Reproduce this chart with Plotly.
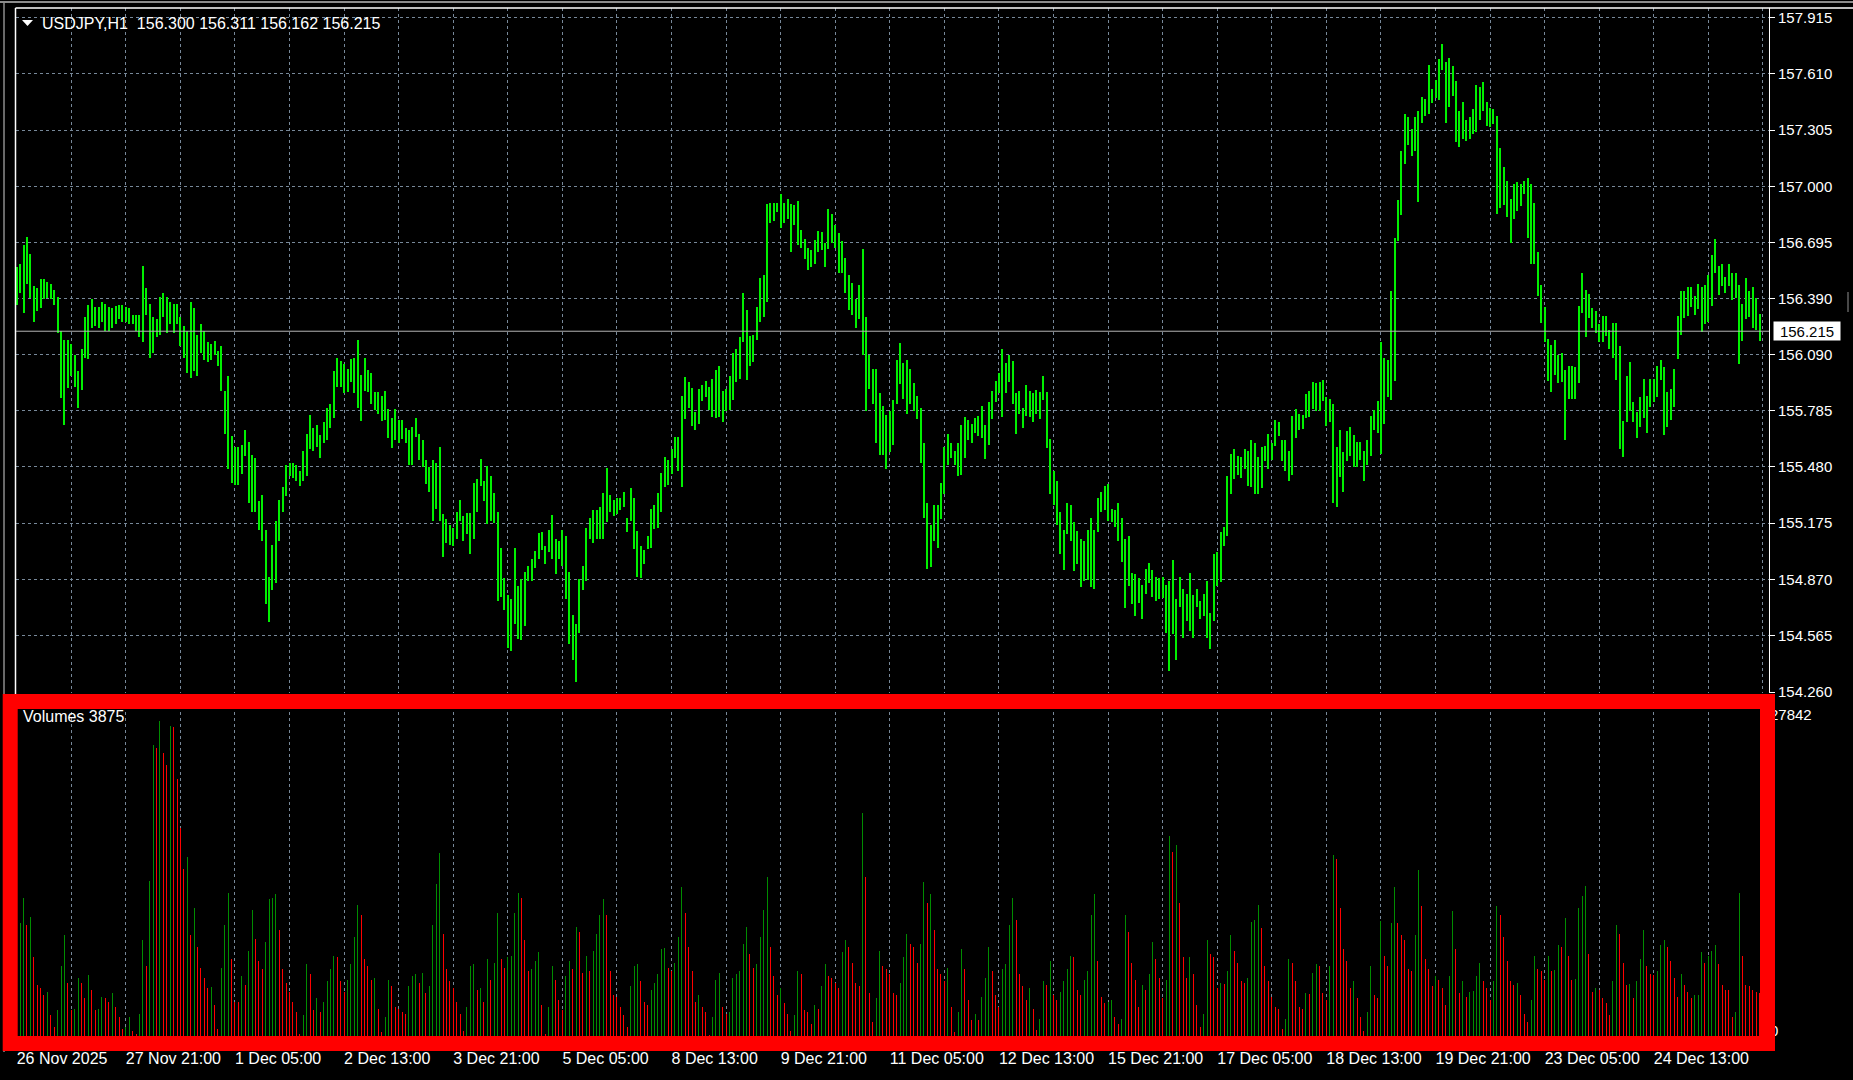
import plotly.graph_objects as go

# ------------------------------------------------------------------ data
symbol = "USDJPY,H1"
last_bar_ohlc = [156.300, 156.311, 156.162, 156.215]   # O H L C of the newest bar
volume_title = "Volumes"

date_labels = ["26 Nov 2025", "27 Nov 21:00", "1 Dec 05:00", "2 Dec 13:00", "3 Dec 21:00",
               "5 Dec 05:00", "8 Dec 13:00", "9 Dec 21:00", "11 Dec 05:00", "12 Dec 13:00",
               "15 Dec 21:00", "17 Dec 05:00", "18 Dec 13:00", "19 Dec 21:00", "23 Dec 05:00",
               "24 Dec 13:00"]

price_ticks = [157.915, 157.610, 157.305, 157.000, 156.695, 156.390, 156.090,
               155.785, 155.480, 155.175, 154.870, 154.565, 154.260]

high = [
    156.562, 156.581, 156.683, 156.727, 156.635, 156.460, 156.448, 156.496, 156.496, 156.484,
    156.472, 156.441, 156.400, 156.218, 156.169, 156.169, 156.145, 156.084, 155.999, 156.121,
    156.291, 156.356, 156.388, 156.344, 156.344, 156.376, 156.364, 156.344, 156.339, 156.351,
    156.356, 156.356, 156.344, 156.339, 156.303, 156.303, 156.303, 156.569, 156.448, 156.364,
    156.291, 156.279, 156.400, 156.424, 156.400, 156.376, 156.364, 156.364, 156.291, 156.242,
    156.218, 156.376, 156.339, 156.194, 156.254, 156.218, 156.157, 156.145, 156.162, 156.109,
    156.133, 155.891, 155.975, 155.648, 155.588, 155.588, 155.600, 155.679, 155.617, 155.544,
    155.527, 155.297, 155.326, 155.139, 154.884, 155.054, 155.188, 155.302, 155.370, 155.491,
    155.503, 155.503, 155.491, 155.455, 155.564, 155.660, 155.762, 155.689, 155.709, 155.655,
    155.721, 155.801, 155.818, 155.999, 156.072, 156.053, 156.036, 156.012, 156.065, 156.072,
    156.169, 155.980, 156.072, 156.004, 155.987, 155.883, 155.883, 155.866, 155.891, 155.794,
    155.745, 155.794, 155.733, 155.733, 155.689, 155.679, 155.696, 155.745, 155.660, 155.624,
    155.515, 155.479, 155.515, 155.503, 155.588, 155.224, 155.200, 155.164, 155.151, 155.236,
    155.302, 155.212, 155.229, 155.229, 155.394, 155.413, 155.522, 155.406, 155.486, 155.430,
    155.340, 155.236, 155.042, 154.879, 154.787, 154.763, 155.042, 154.836, 154.872, 154.909,
    154.945, 154.982, 155.023, 155.120, 155.127, 155.050, 155.139, 155.217, 155.091, 155.079,
    155.139, 155.108, 154.909, 154.678, 154.630, 154.872, 154.945, 155.151, 155.205, 155.244,
    155.248, 155.260, 155.338, 155.474, 155.326, 155.302, 155.309, 155.309, 155.345, 155.205,
    155.365, 155.309, 155.132, 155.050, 155.030, 155.108, 155.253, 155.272, 155.338, 155.447,
    155.534, 155.515, 155.576, 155.641, 155.641, 155.866, 155.968, 155.939, 155.907, 155.777,
    155.903, 155.922, 155.946, 155.915, 155.956, 156.004, 156.024, 155.891, 155.903, 155.970,
    156.097, 156.116, 156.182, 156.424, 156.332, 156.189, 156.194, 156.344, 156.504, 156.521,
    156.902, 156.909, 156.909, 156.909, 156.957, 156.909, 156.933, 156.902, 156.897, 156.921,
    156.764, 156.715, 156.666, 156.654, 156.708, 156.756, 156.751, 156.691, 156.877, 156.848,
    156.788, 156.746, 156.703, 156.611, 156.521, 156.477, 156.388, 156.468, 156.659, 156.291,
    156.084, 156.012, 156.012, 155.878, 155.810, 155.762, 155.781, 155.842, 156.060, 156.150,
    156.043, 156.060, 156.012, 155.932, 155.866, 155.801, 155.607, 155.285, 155.164, 155.272,
    155.272, 155.394, 155.588, 155.660, 155.607, 155.568, 155.607, 155.709, 155.752, 155.733,
    155.714, 155.745, 155.757, 155.810, 155.709, 155.830, 155.891, 155.946, 155.987, 156.116,
    156.043, 156.084, 156.053, 155.878, 155.891, 155.801, 155.922, 155.891, 155.878, 155.898,
    155.883, 155.975, 155.883, 155.631, 155.455, 155.406, 155.236, 155.139, 155.285, 155.272,
    155.180, 155.132, 155.091, 155.079, 155.139, 155.205, 155.139, 155.309, 155.345, 155.375,
    155.389, 155.253, 155.248, 155.285, 155.205, 155.091, 155.108, 154.904, 154.897, 154.879,
    154.841, 154.928, 154.957, 154.921, 154.884, 154.879, 154.884, 154.841, 154.860, 154.977,
    154.763, 154.884, 154.816, 154.792, 154.904, 154.783, 154.816, 154.751, 154.792, 154.860,
    154.690, 155.006, 155.018, 155.127, 155.156, 155.430, 155.551, 155.576, 155.539, 155.534,
    155.576, 155.564, 155.624, 155.612, 155.534, 155.588, 155.592, 155.660, 155.612, 155.733,
    155.721, 155.624, 155.624, 155.568, 155.757, 155.794, 155.769, 155.762, 155.873, 155.891,
    155.939, 155.932, 155.939, 155.951, 155.859, 155.849, 155.818, 155.588, 155.679, 155.559,
    155.672, 155.696, 155.655, 155.617, 155.617, 155.564, 155.624, 155.757, 155.786, 155.835,
    156.157, 156.072, 156.060, 156.431, 156.722, 156.926, 157.193, 157.394, 157.377, 157.309,
    157.377, 157.411, 157.483, 157.474, 157.660, 157.527, 157.576, 157.692, 157.770, 157.673,
    157.697, 157.653, 157.571, 157.411, 157.459, 157.357, 157.377, 157.418, 157.551, 157.539,
    157.563, 157.459, 157.425, 157.418, 157.382, 157.207, 157.103, 157.030, 156.933, 157.013,
    157.023, 157.013, 157.030, 157.047, 157.013, 156.909, 156.642, 156.465, 156.344, 156.174,
    156.140, 156.169, 156.084, 156.097, 156.004, 156.029, 156.024, 156.019, 156.351, 156.533,
    156.436, 156.417, 156.339, 156.327, 156.254, 156.295, 156.295, 156.223, 156.262, 156.262,
    156.133, 155.728, 155.975, 156.048, 155.830, 155.777, 155.859, 155.956, 155.866, 155.956,
    155.956, 156.029, 156.060, 156.019, 155.883, 155.903, 156.012, 156.295, 156.431, 156.431,
    156.455, 156.455, 156.407, 156.472, 156.455, 156.465, 156.521, 156.630, 156.715, 156.569,
    156.577, 156.509, 156.581, 156.528, 156.533, 156.465, 156.364, 156.504, 156.431, 156.455,
    156.393, 156.311,
]

low = [
    156.356, 156.424, 156.315, 156.472, 156.393, 156.267, 156.322, 156.339, 156.388, 156.393,
    156.388, 156.356, 156.206, 155.854, 155.709, 155.907, 155.975, 155.915, 155.798, 155.898,
    156.072, 156.065, 156.235, 156.242, 156.230, 156.267, 156.218, 156.218, 156.230, 156.254,
    156.279, 156.267, 156.267, 156.254, 156.254, 156.218, 156.182, 156.157, 156.303, 156.072,
    156.097, 156.182, 156.194, 156.291, 156.206, 156.254, 156.206, 156.254, 156.133, 156.072,
    155.987, 155.963, 155.999, 155.975, 156.097, 156.060, 156.048, 156.060, 156.084, 156.024,
    155.891, 155.660, 155.467, 155.394, 155.382, 155.382, 155.443, 155.539, 155.285, 155.236,
    155.236, 155.139, 155.079, 154.739, 154.642, 154.812, 154.848, 155.079, 155.236, 155.321,
    155.430, 155.418, 155.406, 155.375, 155.406, 155.430, 155.576, 155.568, 155.588, 155.527,
    155.612, 155.624, 155.689, 155.745, 155.915, 155.915, 155.878, 155.883, 155.939, 155.878,
    155.801, 155.728, 155.891, 155.883, 155.818, 155.786, 155.769, 155.728, 155.733, 155.636,
    155.580, 155.624, 155.612, 155.631, 155.612, 155.491, 155.491, 155.641, 155.515, 155.479,
    155.387, 155.345, 155.188, 155.253, 155.188, 154.994, 155.067, 155.054, 155.050, 155.091,
    155.188, 155.079, 155.115, 155.006, 155.091, 155.236, 155.375, 155.297, 155.171, 155.188,
    155.176, 154.751, 154.775, 154.703, 154.497, 154.484, 154.630, 154.545, 154.540, 154.618,
    154.860, 154.860, 154.933, 154.982, 155.030, 154.952, 155.018, 154.982, 154.897, 154.982,
    154.945, 154.763, 154.521, 154.436, 154.315, 154.581, 154.812, 154.860, 155.091, 155.067,
    155.091, 155.091, 155.091, 155.180, 155.236, 155.212, 155.224, 155.248, 155.260, 155.127,
    155.188, 155.035, 154.884, 154.879, 154.952, 155.035, 155.042, 155.146, 155.151, 155.236,
    155.370, 155.382, 155.443, 155.527, 155.455, 155.370, 155.738, 155.801, 155.704, 155.679,
    155.714, 155.835, 155.859, 155.786, 155.752, 155.745, 155.752, 155.721, 155.781, 155.786,
    155.842, 155.939, 155.956, 156.157, 155.951, 156.029, 156.048, 156.165, 156.267, 156.291,
    156.376, 156.800, 156.812, 156.860, 156.776, 156.800, 156.824, 156.647, 156.788, 156.683,
    156.666, 156.606, 156.545, 156.562, 156.581, 156.642, 156.654, 156.562, 156.659, 156.691,
    156.666, 156.533, 156.533, 156.424, 156.332, 156.303, 156.230, 156.279, 156.084, 155.781,
    155.903, 155.818, 155.612, 155.544, 155.544, 155.471, 155.563, 155.600, 155.818, 155.927,
    155.849, 155.769, 155.818, 155.781, 155.738, 155.503, 155.205, 154.928, 154.938, 155.079,
    155.042, 155.195, 155.333, 155.491, 155.527, 155.491, 155.430, 155.437, 155.527, 155.624,
    155.612, 155.665, 155.648, 155.636, 155.520, 155.600, 155.738, 155.830, 155.878, 155.752,
    155.878, 155.939, 155.818, 155.660, 155.769, 155.689, 155.757, 155.752, 155.721, 155.769,
    155.738, 155.842, 155.583, 155.333, 155.272, 155.164, 155.006, 154.921, 155.115, 155.079,
    154.913, 154.952, 154.831, 154.860, 154.865, 154.831, 154.817, 155.127, 155.236, 155.248,
    155.188, 155.180, 155.156, 155.079, 154.962, 154.715, 154.836, 154.739, 154.671, 154.744,
    154.654, 154.792, 154.848, 154.775, 154.751, 154.763, 154.768, 154.581, 154.375, 154.574,
    154.436, 154.719, 154.550, 154.647, 154.589, 154.550, 154.719, 154.654, 154.671, 154.550,
    154.492, 154.647, 154.836, 154.855, 155.050, 155.103, 155.333, 155.413, 155.437, 155.418,
    155.471, 155.375, 155.370, 155.333, 155.333, 155.365, 155.510, 155.471, 155.515, 155.592,
    155.648, 155.510, 155.455, 155.406, 155.437, 155.636, 155.679, 155.684, 155.745, 155.752,
    155.794, 155.781, 155.781, 155.835, 155.704, 155.721, 155.285, 155.260, 155.423, 155.345,
    155.510, 155.539, 155.479, 155.479, 155.515, 155.406, 155.491, 155.539, 155.679, 155.665,
    155.551, 155.714, 155.859, 155.842, 155.946, 156.703, 156.843, 157.120, 157.224, 157.163,
    157.193, 156.916, 157.345, 157.382, 157.394, 157.454, 157.479, 157.467, 157.629, 157.345,
    157.430, 157.491, 157.241, 157.212, 157.256, 157.248, 157.256, 157.285, 157.297, 157.357,
    157.406, 157.328, 157.321, 157.338, 156.848, 156.885, 156.897, 156.836, 156.691, 156.824,
    156.868, 156.892, 156.957, 156.722, 156.581, 156.581, 156.407, 156.261, 156.157, 155.946,
    155.883, 155.980, 155.932, 155.939, 155.624, 155.849, 155.849, 155.849, 155.932, 156.315,
    156.182, 156.286, 156.230, 156.206, 156.157, 156.157, 156.189, 156.116, 156.072, 155.951,
    155.576, 155.534, 155.721, 155.781, 155.721, 155.636, 155.696, 155.745, 155.665, 155.806,
    155.830, 155.859, 155.951, 155.655, 155.696, 155.733, 155.806, 156.067, 156.194, 156.286,
    156.295, 156.344, 156.303, 156.334, 156.213, 156.254, 156.267, 156.351, 156.533, 156.412,
    156.460, 156.424, 156.460, 156.383, 156.393, 156.036, 156.164, 156.279, 156.291, 156.230,
    156.223, 156.162,
]

volume = [
    2600, 9986, 12247, 9839, 10573, 6990, 4582, 4288, 3671, 3965,
    1909, 822, 2320, 6226, 8928, 4729, 2350, 2467, 5169, 4729,
    3378, 5463, 4112, 2350, 2467, 3524, 3378, 3084, 3818, 2614,
    1733, 646, 822, 1733, 529, 235, 2027, 8488, 6226, 13745,
    25728, 25434, 27842, 24994, 23937, 27373, 27314, 22732, 18386, 14773,
    15830, 8928, 11337, 7900, 6080, 5198, 4288, 4347, 2790, 676,
    6080, 9839, 12688, 6843, 3084, 3025, 5345, 4582, 7577, 11190,
    8635, 6667, 5933, 8341, 12100, 12247, 12541, 9398, 5933, 4729,
    3965, 3084, 2173, 235, 1880, 6373, 5492, 2320, 3378, 2173,
    3084, 4875, 5933, 7137, 6990, 4875, 3965, 5022, 6373, 8782,
    11631, 10720, 6843, 6226, 5022, 5169, 2467, 441, 1733, 5022,
    4435, 2614, 2467, 2173, 2027, 4435, 5345, 5492, 4729, 5639,
    3818, 4435, 9839, 13451, 16154, 9075, 5933, 4875, 4288, 3084,
    2027, 529, 2614, 6226, 6373, 4112, 4288, 3084, 6843, 5022,
    6520, 10867, 6843, 6080, 6990, 7137, 10867, 12688, 12247, 8488,
    5786, 5933, 6667, 7431, 2790, 235, 2614, 6226, 5022, 3231,
    2320, 5345, 6667, 5933, 9692, 9222, 5639, 7137, 5786, 7577,
    9075, 10720, 12100, 10720, 5786, 3671, 3524, 2614, 1880, 881,
    4435, 6226, 6373, 4875, 3084, 2790, 4141, 4729, 5492, 7724,
    7783, 6080, 5786, 6520, 8782, 13158, 10896, 7900, 5786, 3084,
    3671, 2614, 2173, 117, 1733, 5022, 5639, 2614, 2027, 2173,
    5169, 5492, 5786, 8165, 9692, 7284, 6080, 6373, 8782, 11190,
    14039, 7900, 5345, 3671, 4288, 2937, 2027, 529, 1880, 5786,
    5492, 2320, 2173, 1116, 2790, 2467, 4435, 6373, 5345, 5169,
    4729, 4288, 7431, 8488, 7900, 6520, 4729, 4435, 19737, 14039,
    3818, 1263, 3378, 7577, 6226, 5933, 5492, 3818, 3671, 4729,
    6990, 9075, 8165, 7900, 6520, 8165, 13598, 11777, 12541, 9398,
    5933, 5492, 4875, 6080, 2614, 382, 2173, 7724, 5933, 3231,
    1439, 2027, 1439, 3524, 5169, 7900, 5786, 3671, 2614, 5933,
    6373, 9839, 12247, 10280, 5492, 4435, 3231, 4288, 2467, 587,
    1586, 4875, 4582, 6667, 3671, 3231, 3965, 4875, 5933, 7137,
    6990, 4112, 3671, 5022, 5786, 10720, 12541, 6667, 3524, 2937,
    3084, 3231, 1733, 1145, 1586, 10720, 9222, 6520, 5022, 2614,
    4582, 4112, 5492, 8341, 6843, 5169, 3378, 5022, 17681, 16300,
    16888, 11777, 6990, 5169, 6990, 5492, 2790, 822, 2027, 8488,
    7284, 6990, 4288, 4729, 4641, 5786, 8928, 7577, 6520, 4875,
    4729, 5169, 10133, 10280, 11631, 9545, 6226, 4875, 3524, 2614,
    2467, 676, 1586, 6843, 6520, 4875, 2614, 2467, 3818, 3730,
    5639, 6373, 6226, 3818, 3231, 6226, 16007, 15684, 11337, 7724,
    6667, 4288, 4875, 3378, 1733, 529, 2173, 6226, 3671, 3378,
    10221, 7137, 6226, 9986, 13158, 9986, 8928, 8488, 5933, 5786,
    8928, 14656, 11484, 6843, 5933, 4435, 5345, 5022, 4288, 2790,
    5345, 11043, 7724, 3818, 4875, 3524, 3965, 4024, 5345, 6520,
    4875, 4288, 3231, 4875, 11484, 10720, 8782, 6667, 4875, 4582,
    4729, 3671, 2027, 1263, 3231, 7137, 5933, 5786, 5022, 7137,
    5786, 5845, 8077, 7900, 10427, 7137, 5022, 5081, 11337, 12394,
    13305, 7284, 3965, 4288, 4112, 3378, 2937, 1880, 4875, 9839,
    9075, 6520, 4582, 4641, 3378, 4875, 6843, 9398, 6226, 5492,
    5433, 5786, 8077, 8488, 7900, 6667, 5169, 3524, 5492, 4582,
    3965, 3378, 3671, 3700, 7431, 6520, 7137, 7577, 8077, 6373,
    4582, 4112, 4083, 1733, 2173, 12688, 7137, 4582, 4435, 4112,
    3965, 3875,
]

# ------------------------------------------------------------------ geometry / style
W, H = 1853, 1080
PLOT_L, PLOT_R = 16, 1769            # plot area left border / right axis line (px)
BAR0_PX, BAR_STEP_PX = 16.7, 3.4106  # pixel position of first bar / bar pitch
PRICE_TOP_PX, PRICE_BOT_PX = 8, 693
TICK_TOP_PX, TICK_BOT_PX = 17.5, 692
VOL_TOP_PX, VOL_BOT_PX, VOL_MAX_PX = 700, 1036.7, 720.7
BARS_PER_GRID, BARS_PER_LABEL = 16, 32

BG = "black"
GRID = "#778899"
PRICE_COL = "rgba(0,240,0,0.999)"
VOL_UP = "rgba(0,140,0,0.999)"
VOL_DN = "rgba(255,0,0,0.999)"
FONT = "Liberation Sans, Arial, sans-serif"


def fx(p):
    return p / W


def fy(p):
    return 1 - p / H


n = len(high)
idx = list(range(n))
x_range = [(PLOT_L - BAR0_PX) / BAR_STEP_PX, (PLOT_R - BAR0_PX) / BAR_STEP_PX]

ppx = (TICK_BOT_PX - TICK_TOP_PX) / (price_ticks[0] - price_ticks[-1])
y_range = [price_ticks[-1] - (PRICE_BOT_PX - TICK_BOT_PX) / ppx,
           price_ticks[0] + (TICK_TOP_PX - PRICE_TOP_PX) / ppx]

vmax = max(volume)
v_range = [0, vmax * (VOL_BOT_PX - VOL_TOP_PX) / (VOL_BOT_PX - VOL_MAX_PX)]

vol_colors = [VOL_UP if (i == 0 or volume[i] > volume[i - 1]) else VOL_DN for i in idx]

grid_vals = list(range(0, n + 1, BARS_PER_GRID))
grid_text = []
for v in grid_vals:
    k = v // BARS_PER_LABEL
    grid_text.append(date_labels[k] if v % BARS_PER_LABEL == 0 and k < len(date_labels) else "")

fig = go.Figure()
fig.add_trace(go.Bar(
    x=idx, y=[h - l for h, l in zip(high, low)], base=low,
    width=2 / BAR_STEP_PX, marker=dict(color=PRICE_COL, line=dict(width=0)),
    xaxis="x", yaxis="y", hoverinfo="skip"))
fig.add_trace(go.Bar(
    x=idx, y=volume, width=1 / BAR_STEP_PX,
    marker=dict(color=vol_colors, line=dict(width=0)),
    xaxis="x2", yaxis="y2", hoverinfo="skip"))

dom_x = [fx(PLOT_L), fx(PLOT_R)]
fig.update_layout(
    width=W, height=H, margin=dict(l=0, r=0, t=0, b=0, pad=0), autosize=False,
    paper_bgcolor=BG, plot_bgcolor=BG, showlegend=False,
    bargap=0, bargroupgap=0,
    font=dict(family=FONT, color="white", size=16),
    xaxis=dict(domain=dom_x, range=x_range, anchor="y", tickmode="array",
               tickvals=grid_vals, showticklabels=False, ticks="", automargin=False,
               showgrid=True, gridcolor=GRID, gridwidth=1, griddash="3px,3px",
               zeroline=False, showline=False, fixedrange=True),
    yaxis=dict(domain=[fy(PRICE_BOT_PX), fy(PRICE_TOP_PX)], range=y_range, side="right",
               tickmode="array", tickvals=price_ticks, automargin=False,
               ticktext=[f"{t:.3f}" for t in price_ticks],
               ticks="outside", ticklen=5, tickcolor="white", tickwidth=1,
               tickfont=dict(size=15, color="white"),
               showgrid=True, gridcolor=GRID, gridwidth=1, griddash="3px,3px",
               showline=True, linecolor="white", linewidth=1,
               zeroline=False, fixedrange=True),
    xaxis2=dict(domain=dom_x, range=x_range, anchor="y2", tickmode="array",
                tickvals=grid_vals, ticktext=grid_text, tickangle=0, automargin=False,
                ticklabelposition="outside right", ticks="",
                tickfont=dict(size=16, color="white"), ticklabelstandoff=10,
                showgrid=True, gridcolor=GRID, gridwidth=1, griddash="3px,3px",
                zeroline=False, showline=False, fixedrange=True),
    yaxis2=dict(domain=[fy(VOL_BOT_PX), fy(VOL_TOP_PX)], range=v_range, side="right",
                anchor="x2", tickmode="array", tickvals=[0, vmax], automargin=False,
                ticktext=["0", str(vmax)], ticks="", ticklabelshift=-6,
                tickfont=dict(size=15, color="white"),
                showgrid=False, zeroline=False, showline=False, fixedrange=True),
)

shapes = [
    # window frame lines
    dict(type="line", xref="paper", yref="paper", x0=0, x1=1, y0=fy(2), y1=fy(2),
         line=dict(color="#8c8c8c", width=2)),
    dict(type="line", xref="paper", yref="paper", x0=fx(15.5), x1=1, y0=fy(8), y1=fy(8),
         line=dict(color="white", width=1.5)),
    dict(type="line", xref="paper", yref="paper", x0=fx(4), x1=fx(4), y0=fy(2), y1=fy(1052),
         line=dict(color="#8c8c8c", width=1.5)),
    dict(type="line", xref="paper", yref="paper", x0=fx(15.5), x1=fx(15.5), y0=fy(8), y1=fy(1040),
         line=dict(color="white", width=1.5)),
    # bid line
    dict(type="line", xref="paper", yref="y", x0=fx(PLOT_L), x1=fx(PLOT_R),
         y0=last_bar_ohlc[3], y1=last_bar_ohlc[3], line=dict(color="#b4b4b4", width=1)),
    # small marker at right edge
    dict(type="line", xref="paper", yref="paper", x0=fx(1848), x1=fx(1848), y0=fy(292), y1=fy(312),
         line=dict(color="#909090", width=1)),
    # header triangle
    dict(type="path", xref="paper", yref="paper",
         path=f"M {fx(22)},{fy(20)} L {fx(33)},{fy(20)} L {fx(27.5)},{fy(26)} Z",
         fillcolor="white", line=dict(width=0)),
    # red highlight rectangle around the volume pane
    dict(type="rect", xref="paper", yref="paper", x0=fx(10.2), x1=fx(1767.5),
         y0=fy(1043.5), y1=fy(701.5), line=dict(color="#ff0000", width=15),
         fillcolor="rgba(0,0,0,0)", layer="above"),
]

o, h_, l_, c = last_bar_ohlc
annotations = [
    dict(xref="paper", yref="paper", x=fx(40), y=fy(23.5), xanchor="left", yanchor="middle",
         showarrow=False, text=f"{symbol}\u00a0\u00a0{o:.3f} {h_:.3f} {l_:.3f} {c:.3f}",
         font=dict(size=16, color="white", family=FONT)),
    dict(xref="paper", yref="paper", x=fx(21), y=fy(716.5), xanchor="left", yanchor="middle",
         showarrow=False, text=f"{volume_title} {volume[-1]}",
         font=dict(size=16, color="white", family=FONT)),
    dict(xref="paper", yref="y", x=fx(1773), y=c, xanchor="left", yanchor="middle",
         showarrow=False, text=f"{c:.3f}", bgcolor="white", borderpad=1,
         width=64, height=16, align="center",
         font=dict(size=15, color="black", family=FONT)),
]
fig.update_layout(shapes=shapes, annotations=annotations)

fig.write_html("out.html", include_plotlyjs=True, config={"displayModeBar": False},
               post_script="document.body.style.margin='0';document.body.style.background='black';")
